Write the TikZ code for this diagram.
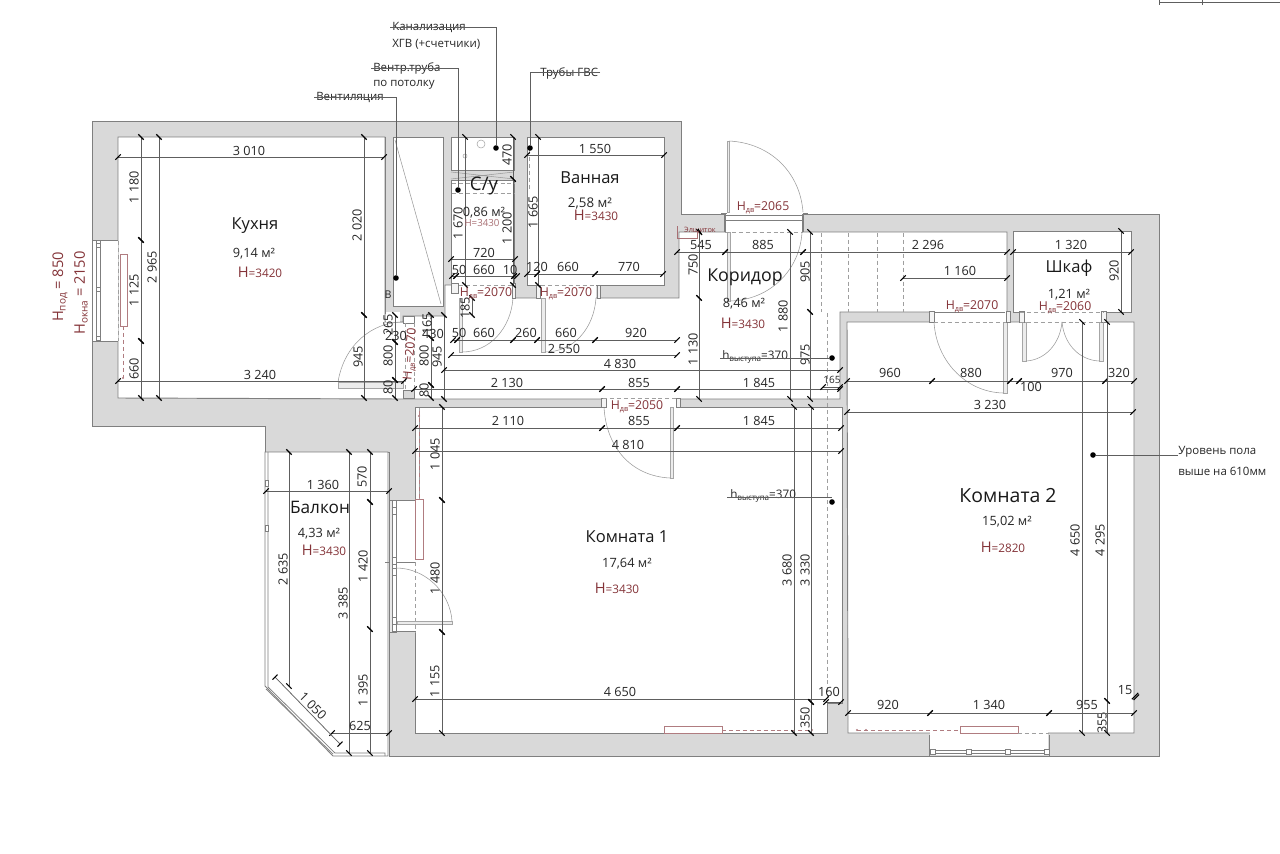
\documentclass[tikz,border=0pt]{standalone}
\usepackage{fontspec}
\setmainfont{Open Sans}
\definecolor{wallc}{HTML}{D9D9D9}
\definecolor{edgec}{HTML}{7F7F7F}
\definecolor{dimc}{HTML}{5E5E5E}
\definecolor{redc}{HTML}{843338}
\definecolor{pinkc}{HTML}{B07C80}
\newcounter{nn}
\tikzset{
 roomshape/.style={fill=white,draw=edgec,line width=0.7pt},
 framec/.style={draw=edgec,line width=0.55pt},
 leaf/.style={draw=gray!70,line width=0.5pt,fill=wallc!50},
 arcl/.style={draw=gray!80,line width=0.4pt},
 dashl/.style={draw=gray!75,line width=0.5pt,dash pattern=on 3pt off 2.2pt},
 pinkl/.style={draw=pinkc,line width=0.5pt,dash pattern=on 3pt off 2.2pt},
 radi/.style={draw=pinkc,fill=white,line width=0.55pt},
 dimline/.style={draw=dimc,line width=0.55pt},
 tickm/.style={draw=black,line width=0.8pt},
 leader/.style={draw=dimc,line width=0.55pt},
 dimt/.style={inner sep=0pt,text=black!85,font=\fontsize{9.5}{11}\selectfont},
 title/.style={inner sep=0pt,text=black!90,font=\fontsize{12.4}{14}\selectfont},
 area/.style={inner sep=0pt,text=black!85,font=\fontsize{9.6}{11}\selectfont},
 redt/.style={inner sep=0pt,text=redc,font=\fontsize{9.2}{11}\selectfont},
 leadt/.style={inner sep=0pt,anchor=west,text=black!85,font=\fontsize{8.6}{10}\selectfont},
 dotm/.style={circle,fill=black,inner sep=0pt,minimum size=4.2pt}
}
\newcommand{\HD}[3]{% y x1 x2
 \draw[dimline] (#2,#1) -- (#3,#1);
 \draw[tickm] (#2-2.7,#1+2.7) -- (#2+2.7,#1-2.7);
 \draw[tickm] (#3-2.7,#1+2.7) -- (#3+2.7,#1-2.7);}
\newcommand{\VD}[3]{% x y1 y2
 \draw[dimline] (#1,#2) -- (#1,#3);
 \draw[tickm] (#1-2.7,#2-2.7) -- (#1+2.7,#2+2.7);
 \draw[tickm] (#1-2.7,#3-2.7) -- (#1+2.7,#3+2.7);}
\newcommand{\TX}[4][]{\stepcounter{nn}\node[dimt,#1] (t\arabic{nn}) at (#2,#3) {#4};}
\newcommand{\TV}[4][]{\stepcounter{nn}\node[dimt,rotate=90,#1] (t\arabic{nn}) at (#2,#3) {#4};}
\newcommand{\HH}[1]{H{\fontsize{5.5}{6}\selectfont\raisebox{-1.5pt}{#1}}}
\newcommand{\RT}[4][]{\stepcounter{nn}\node[redt,#1] (t\arabic{nn}) at (#2,#3) {#4};}
\newcommand{\BigH}[1]{{\fontsize{11}{12}\selectfont H}{\fontsize{8.8}{11}\selectfont =#1}}
\begin{document}
\begin{tikzpicture}[x=0.75pt,y=-0.75pt]
\useasboundingbox (0,0) rectangle (1280,853);
\fill[white] (0,0) rectangle (1280,853);
% outer walls
\draw[fill=wallc,draw=edgec,line width=0.7pt] (92,121)--(681,121)--(681,214)--(1159,214)--(1159,756)--(389,756)--(389,452)--(265,452)--(265,426)--(92,426)--cycle;
% balcony
\draw[roomshape] (265,452)--(388,452)--(388,756)--(333,756)--(265,686)--cycle;
\draw[framec] (268,452)--(268,687)--(335,753)--(385,753)--(385,756);
\draw[framec] (266,689)--(333,754);
\foreach \yy in {480,525}{\draw[framec,fill=white] (265,\yy) rectangle (268,\yy+6);}
% kitchen + corridor
\draw[roomshape] (118,137)--(385,137)--(385,322)--(403,322)--(403,316)--(445,316)--(445,285)--(515,285)--(515,298)--(679,298)--(679,232)--(725,232)--(725,215)--(803,215)--(803,232)--(1007,232)--(1007,312)--(840,312)--(840,399)--(415,399)--(403,399)--(118,398)--cycle;
\fill[white] (386,312) rectangle (400,322);
\draw[draw=edgec,line width=0.7pt] (385,137)--(385,314);
% shaft
\draw[roomshape] (393,137) rectangle (443,306);
\draw[draw=gray!80,line width=0.4pt] (395,140)--(441,304);
\stepcounter{nn}\node[dimt,font=\fontsize{8}{9}\selectfont] (tb) at (388,295) {В};
% wc
\draw[roomshape] (451,137) rectangle (514,170);
\draw[roomshape] (451,180) rectangle (514,285);
\draw[draw=gray!80,line width=0.4pt] (451,172)--(514,179) (451,179)--(514,172);
\draw[dashl] (452,183)--(515,183) (452,193)--(515,193);
\draw[draw=gray!70,line width=0.4pt] (481,144) circle (4);
\draw[draw=gray!70,line width=0.4pt] (465,156) circle (2);
% bath
\draw[roomshape] (527,137) rectangle (664,285);
\draw[dashl] (529,150)--(529,190);
% rooms
\draw[roomshape] (415,407)--(842,407)--(842,703)--(827,703)--(827,733)--(415,733)--cycle;
\draw[roomshape] (847,322)--(1134,322)--(1134,733)--(848,733)--cycle;
\draw[roomshape] (1013,231) rectangle (1131,312);
% openings
\fill[white] (459,284) rectangle (512,287);
\fill[white] (541,284) rectangle (596,299);
\fill[white] (603,398) rectangle (677,408);
\fill[white] (933,311) rectangle (1007,323);
\fill[white] (1020,311) rectangle (1104,323);
\fill[white] (93,241) rectangle (118,341);
\fill[white] (389,501) rectangle (416,631);
\fill[white] (930,732) rectangle (1048,755);
\fill[white] (726,214) rectangle (802,233);
\draw[framec] (92,240)--(118,240) (92,341)--(118,341) (92,240)--(92,341);
\draw[framec] (96,241)--(96,341) (100,241)--(100,341);
\foreach \yy in {243,287,336}{\draw[framec,fill=white] (96,\yy) rectangle (100,\yy+4);}
\draw[dashl] (118,241)--(118,341);
% kitchen door jambs
\draw[framec,fill=white] (403,316) rectangle (414,323);
\draw[framec,fill=wallc] (403,390) rectangle (414,398);
\draw[dashl] (405,323)--(405,390) (414,323)--(414,390);
% balcony frame
\draw[framec] (389,500)--(415,500) (389,631)--(415,631) (385,562)--(415,562);
\draw[framec,fill=wallc!60] (389,500) rectangle (392,632);
\draw[framec] (392,500) rectangle (396,632);
\foreach \yy in {507,557,568,617}{\draw[framec,fill=white] (392,\yy) rectangle (396,\yy+7);}
\draw[dashl] (415,500)--(415,632);
% door leaves and arcs
\draw[leaf] (338,382) rectangle (403,388);
\draw[arcl] (338,382) .. controls (344,345) and (372,322) .. (403,322);
\draw[leaf] (459,298) rectangle (462,352);
\draw[arcl] (513,298) .. controls (511,328) and (490,352) .. (462,352);
\draw[leaf] (541,298) rectangle (545,352);
\draw[arcl] (596,298) .. controls (594,328) and (574,352) .. (545,352);
\draw[leaf] (670,407) rectangle (673,478);
\draw[arcl] (604,407) .. controls (606,446) and (630,476) .. (670,478);
\draw[leaf] (727,141) rectangle (729,212);
\draw[arcl] (729,141) .. controls (770,143) and (800,172) .. (803,212);
\draw[leaf] (727,232) rectangle (730,301);
\draw[arcl] (802,232) .. controls (800,270) and (770,300) .. (730,301);
\draw[framec] (721,213)--(727,213) (803,213)--(808,213) (725,215) rectangle (803,220);
\draw[framec,line width=0.8pt] (803,214)--(803,232) (725,214)--(725,232);
\draw[dashl] (725,232)--(803,232);
\draw[leaf] (1003,322) rectangle (1007,393);
\draw[arcl] (934,322) .. controls (936,360) and (965,392) .. (1003,393);
\draw[leaf] (1022,322) rectangle (1026,361);
\draw[arcl] (1062,322) .. controls (1060,344) and (1045,360) .. (1026,361);
\draw[leaf] (1099,322) rectangle (1103,361);
\draw[arcl] (1062,322) .. controls (1064,344) and (1079,360) .. (1099,361);
\draw[leaf] (397,624) rectangle (452,621);
\draw[arcl] (396,568) .. controls (425,568) and (450,592) .. (452,621);
% jambs and frame bits
\foreach \xa/\ya/\xb/\yb in {451/283/458/293, 512/283/515/298, 536/285/540/298, 597/285/600/298, 601/398/606/407, 676/398/680/407, 929/311/934/322, 1006/311/1010/322, 1019/311/1024/322, 1101/311/1106/322}{
 \draw[framec,fill=wallc!30] (\xa,\ya) rectangle (\xb,\yb);}
\draw[dashl] (459,285)--(512,285) (541,285)--(596,285) (603,398)--(677,398) (934,322)--(1005,322) (1020,312)--(1104,312) (1020,322)--(1104,322);
\draw[framec] (934,312)--(1005,312);
% dashed stairs lines
\foreach \xx in {821,848,877,903}{\draw[dashl] (\xx,233)--(\xx,312);}
\draw[dashl] (827,313)--(827,700);
\draw[dashl] (419,408)--(419,499);
% radiators
\draw[radi] (120,254) rectangle (127,326);
\draw[pinkl] (123,326)--(123,378);
\draw[radi] (415,499) rectangle (423,559);
\draw[pinkl] (419,411)--(419,499);
\draw[radi] (664,726) rectangle (722,733);
\draw[pinkl] (722,730)--(812,730);
\draw[radi] (960,726) rectangle (1018,733);
\draw[pinkl] (857,730)--(960,730);
\draw[dashl] (1018,733)--(1049,733);
\foreach \xx/\yy in {123/378,419/416,812/730,857/730,866/730}{\fill[pinkc] (\xx,\yy) circle (1.1);}
% room-2 window
\draw[framec] (929,735)--(929,756) (1049,735)--(1049,756);
\draw[framec] (930,750)--(1048,750) (930,753)--(1048,753);
\foreach \xx in {930,966,1005,1044}{\draw[framec,fill=white] (\xx,749) rectangle (\xx+5,754);}
% top-right stray line
\draw[dimc,line width=0.55pt] (1159,2)--(1280,2) (1159,0)--(1159,5) (1202,0)--(1202,5);
% ---- dimensions ----
\HD{157}{118}{384}\TX{249}{151}{3 010}
\HD{381}{118}{404}\TX{260}{375}{3 240}
\VD{141}{137}{240}\TV{134}{187}{1 180}
\VD{141}{240}{341}\TV{134}{290}{1 125}
\VD{141}{341}{398}\TV{134}{369}{660}
\VD{159}{137}{398}\TV{152}{267}{2 965}
\VD{364}{137}{315}\TV{357}{225}{2 020}
\VD{364}{315}{398}\TV{358}{357}{945}
\VD{395}{315}{342}\TV{388}{325}{265}
\VD{395}{342}{380}\TV{388}{356}{800}
\VD{395}{380}{398}\TV{388}{387}{80}
\TX{396}{336}{230}
\VD{431}{315}{338}\TV{427}{324}{165}
\VD{431}{338}{385}\TV{424}{356}{800}
\VD{431}{385}{398}\TV{424}{390}{80}
\TX{433}{334}{430}
\VD{444}{315}{399}\TV{437}{357}{945}
% wc / bath
\VD{465}{137}{285}\TV{458}{223}{1 670}
\VD{472}{298}{315}\TV{465}{308}{185}
\VD{513}{137}{179}\TV{507}{155}{470}
\VD{513}{179}{285}\TV{507}{228}{1 200}
\VD{538}{137}{285}\TV{533}{212}{1 665}
\HD{259}{451}{515}\TX{484}{253}{720}
\HD{276}{452}{456}\HD{276}{456}{514}\HD{276}{514}{517}
\TX{459}{270}{50}\TX{484}{270}{660}\TX{510}{270}{10}
\HD{274}{527}{537}\HD{274}{537}{595}\HD{274}{595}{663}
\TX{537}{267}{120}\TX{568}{267}{660}\TX{629}{267}{770}
\HD{155}{527}{664}\TX{595}{149}{1 550}
\HD{340}{453}{457}\HD{340}{457}{513}\HD{340}{513}{537}\HD{340}{537}{595}\HD{340}{595}{677}
\TX{459}{333}{50}\TX{484}{333}{660}\TX{526}{333}{260}\TX{566}{333}{660}\TX{636}{333}{920}
\HD{355}{451}{677}\TX{564}{349}{2 550}
\HD{370}{444}{840}\TX{620}{364}{4 830}
\HD{389}{414}{602}\HD{389}{602}{677}\HD{389}{677}{840}
\TX{507}{383}{2 130}\TX{639}{383}{855}\TX{759}{383}{1 845}
\HD{387}{823}{840}\TX[font=\fontsize{7.5}{9}\selectfont]{832}{380}{165}
\HD{428}{415}{602}\HD{428}{602}{677}\HD{428}{677}{841}
\TX{508}{421}{2 110}\TX{639}{421}{855}\TX{759}{421}{1 845}
\HD{451}{415}{841}\TX{628}{445}{4 810}
% corridor
\HD{252}{677}{725}\HD{252}{725}{803}\HD{252}{803}{1007}
\TX{701}{245}{545}\TX{763}{245}{885}\TX{928}{245}{2 296}
\HD{278}{903}{1007}\TX{960}{271}{1 160}
\HD{252}{1013}{1131}\TX{1071}{245}{1 320}
\VD{699}{232}{298}\TV{693}{265}{750}
\VD{699}{298}{399}\TV{693}{349}{1 130}
\VD{790}{232}{399}\TV{783}{316}{1 880}
\VD{810}{232}{312}\TV{805}{272}{905}
\VD{810}{312}{399}\TV{805}{355}{975}
\VD{1121}{231}{312}\TV{1114}{271}{920}
% room 2
\HD{381}{847}{932}\HD{381}{932}{1010}\HD{381}{1010}{1019}\HD{381}{1019}{1105}\HD{381}{1105}{1134}
\TX{890}{373}{960}\TX{971}{373}{880}\TX{1031}{387}{100}\TX{1062}{373}{970}\TX{1119}{373}{320}
\HD{412}{847}{1133}\TX{990}{405}{3 230}
\VD{1082}{322}{733}\TV{1075}{540}{4 650}
\VD{1107}{322}{701}\TV{1100}{540}{4 295}
\VD{1107}{701}{733}\TV{1102}{723}{355}
\HD{713}{848}{930}\HD{713}{930}{1049}\HD{713}{1049}{1134}
\TX{888}{705}{920}\TX{989}{705}{1 340}\TX{1087}{705}{955}
\draw[tickm] (1131.8,699.2)--(1138.2,692.8) (1133.5,700)--(1139,694.5);
\TX{1125}{690}{15}
% room 1
\VD{442}{407}{500}\TV{435}{454}{1 045}
\VD{442}{500}{632}\TV{435}{578}{1 480}
\VD{442}{632}{733}\TV{435}{681}{1 155}
\HD{699}{415}{826}\TX{620}{692}{4 650}
\HD{702}{826}{841}\TX{829}{692}{160}
\VD{794}{407}{733}\TV{787}{570}{3 680}
\VD{811}{407}{702}\TV{805}{570}{3 330}
\VD{811}{702}{733}\TV{805}{718}{350}
% balcony
\VD{289}{452}{686}\TV{283}{569}{2 635}
\VD{349}{452}{753}\TV{343}{603}{3 385}
\VD{370}{452}{502}\TV{362}{477}{570}
\VD{370}{502}{629}\TV{363}{566}{1 420}
\VD{370}{629}{753}\TV{363}{690}{1 395}
\HD{491}{266}{389}\TX{323}{485}{1 360}
\HD{733}{332}{389}\TX{360}{726}{625}
\draw[dimline] (275,677)--(340,744);
\draw[tickm] (272.5,679.5)--(277.5,674.5) (337.5,746.5)--(342.5,741.5);
\TX[rotate=-45]{313}{706}{1 050}
% ---- leaders ----
\node[leadt] (kan) at (392,27.5) {Канализация};
\node[leadt] (kan2) at (392,44) {ХГВ (+счетчики)};
\node[dotm] (kand) at (496,148) {};
\coordinate (kans) at (390,27);
\draw[leader] (kans) -| (kand);
\node[leadt] (ven) at (373,68.5) {Вентр.труба};
\node[leadt] (ven2) at (373,85) {по потолку};
\node[dotm] (vend) at (458,190) {};
\coordinate (vens) at (371,68);
\draw[leader] (vens) -| (vend);
\node[leadt] (vt) at (316,97.5) {Вентиляция};
\node[dotm] (vtd) at (396,278) {};
\coordinate (vts) at (314,97);
\draw[leader] (vts) -| (vtd);
\node[leadt] (gvs) at (540,73) {Трубы ГВС};
\node[dotm] (gvsd) at (530,148) {};
\coordinate (gvss) at (600,72);
\draw[leader] (gvss) -| (gvsd);
\node[dotm] (urd) at (1093,455) {};
\node[leadt] (ur) at (1178,452) {Уровень пола};
\node[leadt] (ur2) at (1178,471) {выше на 610мм};
\coordinate (urs) at (1178,455);
\draw[leader] (urd) -- (urs);
\node[leadt,font=\fontsize{8.8}{10}\selectfont] (hv1) at (722,357) {h{\fontsize{6}{7}\selectfont\raisebox{-1.5pt}{выступа}}=370};
\node[dotm] (hv1d) at (832,358) {};
\coordinate (hv1s) at (720,358);
\draw[leader] (hv1s) -- (hv1d);
\node[leadt,font=\fontsize{8.8}{10}\selectfont] (hv2) at (730,496) {h{\fontsize{6}{7}\selectfont\raisebox{-1.5pt}{выступа}}=370};
\node[dotm] (hv2d) at (832,502) {};
\coordinate (hv2s) at (727,497);
\coordinate (hv2e) at (832,497);
\draw[leader] (hv2s) -- (hv2e);
% ---- room labels ----
\node[title] (n1) at (255,226) {Кухня};
\node[area] (n2) at (254,254) {9,14 м²};
\RT{260}{272}{\BigH{3420}}
\node[title,font=\fontsize{14}{16}\selectfont] (n3) at (484,186) {С/у};
\node[area] (n4) at (484,213) {0,86 м²};
\RT[text=redc!70,font=\fontsize{7.3}{9}\selectfont]{482}{223}{H=3430}
\node[title] (n5) at (590,178) {Ванная};
\node[area,font=\fontsize{10}{11}\selectfont] (n6) at (590,204) {2,58 м²};
\RT{596}{215}{\BigH{3430}}
\node[title,font=\fontsize{13.3}{15}\selectfont] (n7) at (745,277) {Коридор};
\node[area] (n8) at (744,304) {8,46 м²};
\RT{743}{323}{\BigH{3430}}
\node[title] (n9) at (1069,268) {Шкаф};
\node[area] (n10) at (1069,295) {1,21 м²};
\node[title,font=\fontsize{12.9}{15}\selectfont] (n11) at (320,507) {Балкон};
\node[area] (n12) at (319,534) {4,33 м²};
\RT{324}{550}{\BigH{3430}}
\node[title] (n13) at (627,537) {Комната 1};
\node[area] (n14) at (627,564) {17,64 м²};
\RT{617}{588}{\BigH{3430}}
\node[title,font=\fontsize{14.6}{17}\selectfont] (n15) at (1008,496) {Комната 2};
\node[area] (n16) at (1007,522) {15,02 м²};
\RT{1003}{547}{\BigH{2820}}
% door heights
\RT{763}{208}{\HH{дв}=2065}
\RT{972}{307}{\HH{дв}=2070}
\RT{1065}{308}{\HH{дв}=2060}
\RT{486}{294}{\HH{дв}=2070}
\RT{566}{294}{\HH{дв}=2070}
\RT{637}{407}{\HH{дв}=2050}
\RT[rotate=85]{411}{354}{\HH{дв}=2070}
\RT[font=\fontsize{11}{13}\selectfont,rotate=90]{60}{287}{H{\fontsize{7.5}{8}\selectfont\raisebox{-2pt}{под}} = 850}
\RT[font=\fontsize{11}{13}\selectfont,rotate=90]{81}{293}{H{\fontsize{7.5}{8}\selectfont\raisebox{-2pt}{окна}} = 2150}
\RT[font=\fontsize{5.5}{7}\selectfont]{700}{231}{Элщиток}
\draw[draw=redc!70,line width=0.4pt] (677,226)--(677,238)--(697,238)--(697,232);
\draw[tickm] (698,229)--(702,235);
\end{tikzpicture}
\end{document}
